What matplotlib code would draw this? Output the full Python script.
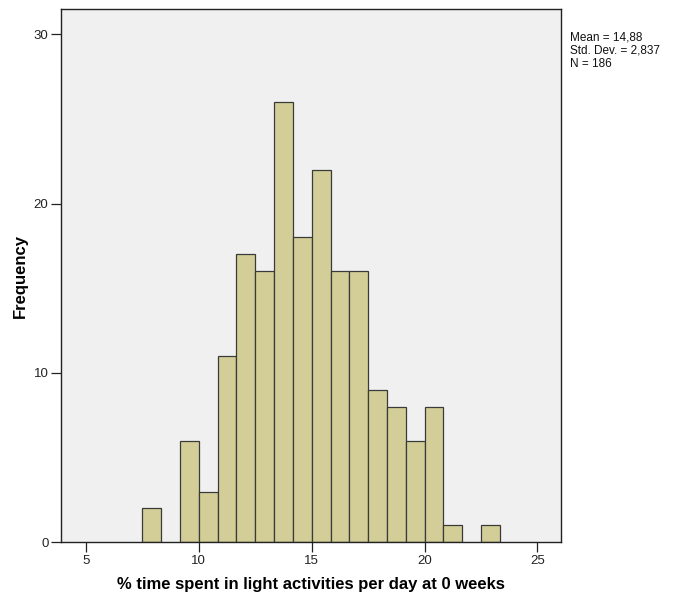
import numpy as np
import matplotlib
matplotlib.use("Agg")
import matplotlib.pyplot as plt

plt.rcParams['font.family'] = ['Liberation Sans', 'DejaVu Sans']

# Histogram bins (width 5/6) and observed counts
bin_start = 7.5
bin_width = 5.0 / 6.0
counts = [2, 0, 6, 3, 11, 17, 16, 26, 18, 22, 16, 16, 9, 8, 6, 8, 1, 0, 1]

x_ticks = [5, 10, 15, 20, 25]
y_ticks = [0, 10, 20, 30]
stats_lines = ["Mean = 14,88", "Std. Dev. = 2,837", "N = 186"]
x_label = "% time spent in light activities per day at 0 weeks"
y_label = "Frequency"

edges = bin_start + bin_width * np.arange(len(counts) + 1)

fig = plt.figure(figsize=(6.74, 6.04), dpi=100)
ax = fig.add_axes([0.0905, 0.1021, 0.7423, 0.883])
ax.set_facecolor('#f0f0f0')

nonzero = [i for i, c in enumerate(counts) if c > 0]
ax.bar([edges[i] for i in nonzero], [counts[i] for i in nonzero],
       width=bin_width, align='edge', color='#d3ce97',
       edgecolor='#3a3a3a', linewidth=0.9)

ax.set_xlim(3.89, 26.06)
ax.set_ylim(0, 31.49)
ax.set_xticks(x_ticks)
ax.set_yticks(y_ticks)
ax.tick_params(direction='out', length=7, width=0.9, labelsize=9.5,
               colors='#222222', pad=2)

for s in ax.spines.values():
    s.set_linewidth(1.0)
    s.set_color('#222222')

ax.set_xlabel(x_label, fontsize=12, fontweight='bold', labelpad=7)
ax.set_ylabel(y_label, fontsize=12, fontweight='bold', labelpad=4)

fig.text(570 / 674, 1 - 31 / 604, "\n".join(stats_lines), fontsize=8.5,
         va='top', ha='left', linespacing=1.15, color='#111111')

fig.savefig("out.png", dpi=100, facecolor='white')
